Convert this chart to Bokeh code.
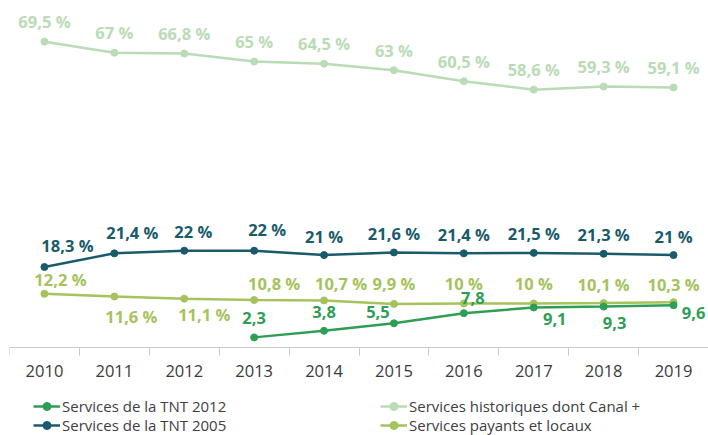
from bokeh.plotting import figure
from bokeh.models import (ColumnDataSource, Range1d, FixedTicker, Legend, LegendItem)
from bokeh.core.properties import value
from bokeh.embed import file_html
from bokeh.resources import INLINE

# ---- data ----
years = [2010, 2011, 2012, 2013, 2014, 2015, 2016, 2017, 2018, 2019]
years_tnt2012 = [2013, 2014, 2015, 2016, 2017, 2018, 2019]
historiques = [69.5, 67, 66.8, 65, 64.5, 63, 60.5, 58.6, 59.3, 59.1]
tnt2005 = [18.3, 21.4, 22, 22, 21, 21.6, 21.4, 21.5, 21.3, 21]
payants = [12.2, 11.6, 11.1, 10.8, 10.7, 9.9, 10, 10, 10.1, 10.3]
tnt2012 = [2.3, 3.8, 5.5, 7.8, 9.1, 9.3, 9.6]
series_names = ["Services de la TNT 2012", "Services de la TNT 2005",
                "Services historiques dont Canal +", "Services payants et locaux"]

# label nudges (screen px: dx right, dy down)
nudge_hist = [(0, -19)] * 10
nudge_2005 = [(23, -20), (18, -20), (9, -18), (13, -20), (0, -18),
              (0, -18), (0, -18), (0, -18), (0, -18), (0, -18)]
nudge_pay = [(16, -13), (17, 21), (20, 17), (20, -15), (17, -16),
             (0, -19), (0, -19), (0, -19), (0, -18), (0, -17)]
nudge_2012 = [(0, -18), (0, -18), (-16, -10), (9, -14), (21, 13), (11, 17), (20, 9)]

C_HIST = "#b9dbb5"
C_2005 = "#1a5b6b"
C_PAY = "#a6c25c"
C_2012 = "#2f9e55"

FONT = "Open Sans"


def fr(v, pct=True):
    s = f"{v:g}".replace(".", ",")
    return s + " %" if pct else s


# frame covers the whole figure; the x axis is pinned at y = 0 inside it
p = figure(width=708, height=435, output_backend="svg", toolbar_location=None,
           x_range=Range1d(2009.5, 2019.5), y_range=Range1d(-20, 78.86),
           min_border_left=9, min_border_right=0, min_border_top=0,
           min_border_bottom=0)
p.outline_line_color = None
p.xgrid.visible = False
p.ygrid.visible = False
p.yaxis.visible = False
p.background_fill_color = "white"
p.border_fill_color = "white"

ax = p.xaxis[0]
ax.fixed_location = 0
ax.ticker = FixedTicker(ticks=years, minor_ticks=[y - 0.5 for y in years])
ax.axis_line_color = "#c8c8c8"
ax.axis_line_width = 1
ax.major_tick_out = 0
ax.major_tick_in = 0
ax.minor_tick_out = 8
ax.minor_tick_in = 0
ax.minor_tick_line_color = "#c8c8c8"
ax.major_label_text_font = FONT
ax.major_label_text_font_size = "16.5px"
ax.major_label_text_color = "#3a3a3a"
ax.major_label_standoff = 10


def add_series(xs, ys, color, nudges, pct):
    src = ColumnDataSource(dict(x=xs, y=ys))
    ln = p.line("x", "y", source=src, line_color=color, line_width=2.5)
    sc = p.scatter("x", "y", source=src, size=7, fill_color=color, line_color=color)
    lab = ColumnDataSource(dict(x=xs, y=ys, t=[fr(v, pct) for v in ys],
                                dx=[n[0] for n in nudges],
                                dy=[n[1] - 1 for n in nudges]))
    p.text("x", "y", text="t", source=lab, x_offset="dx", y_offset="dy",
           text_align="center", text_baseline="middle", text_color=color,
           text_font=value(FONT), text_font_size="16.5px", text_font_style="bold")
    return [ln, sc]


r_hist = add_series(years, historiques, C_HIST, nudge_hist, True)
r_2005 = add_series(years, tnt2005, C_2005, nudge_2005, True)
r_pay = add_series(years, payants, C_PAY, nudge_pay, True)
r_2012 = add_series(years_tnt2012, tnt2012, C_2012, nudge_2012, False)


def make_legend(items, vy):
    return Legend(items=items, location=(24, vy), orientation="horizontal",
                  glyph_width=27, glyph_height=20, label_height=20,
                  label_standoff=2, label_width=316, spacing=2,
                  padding=0, margin=0, border_line_color=None,
                  background_fill_alpha=0,
                  label_text_font=FONT, label_text_font_size="15px",
                  label_text_color="#404040")


leg1 = make_legend([LegendItem(label=series_names[0], renderers=r_2012),
                    LegendItem(label=series_names[2], renderers=r_hist)], 19)
leg2 = make_legend([LegendItem(label=series_names[1], renderers=r_2005),
                    LegendItem(label=series_names[3], renderers=r_pay)], 0)
p.add_layout(leg1, "center")
p.add_layout(leg2, "center")

open("out.html", "w").write(file_html(p, INLINE))
